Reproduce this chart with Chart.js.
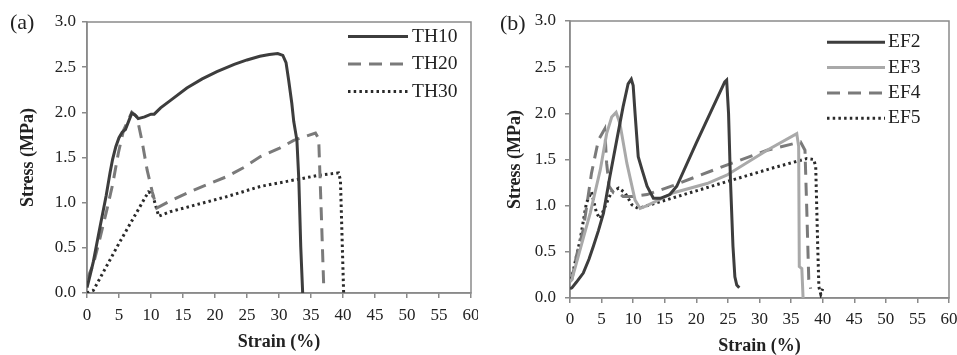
<!DOCTYPE html>
<html>
<head>
<meta charset="utf-8">
<script src="https://cdn.jsdelivr.net/npm/chart.js@4.4.1/dist/chart.umd.min.js"></script>
<style>
  body { margin: 0; background: #fff; }
  canvas { position: absolute; top: 0; }
  .tag { position: absolute; font: 22px "Liberation Serif", serif; color: #222; line-height: 1; }
</style>
</head>
<body>
<canvas id="chartA" width="478" height="355" style="left:0"></canvas>
<canvas id="chartB" width="479" height="355" style="left:478px"></canvas>
<div class="tag" style="left:10px;top:11px">(a)</div>
<div class="tag" style="left:500px;top:12px">(b)</div>
<script>
// strain (%) / stress (MPa)
const th10Strain = [0, 0.5, 1, 2, 3, 3.6, 4, 4.5, 5, 5.5, 6, 6.5, 7, 7.5, 8, 9, 10, 10.5, 11.5, 13, 15.6, 18, 20.3, 23, 25, 27, 28.5, 29.8, 30.6, 31.1, 31.5, 32, 32.3, 32.8, 33.1, 33.4, 33.7];
const th10Stress = [0.06, 0.2, 0.35, 0.72, 1.08, 1.33, 1.48, 1.62, 1.72, 1.78, 1.81, 1.9, 1.99, 1.97, 1.93, 1.95, 1.98, 1.98, 2.05, 2.13, 2.27, 2.37, 2.45, 2.53, 2.58, 2.62, 2.64, 2.65, 2.63, 2.55, 2.36, 2.1, 1.9, 1.69, 1.25, 0.51, 0.0];

const th20Strain = [0, 1, 2, 3.1, 4, 4.9, 5.7, 6.5, 7.0, 7.8, 8.6, 9.4, 10.2, 10.9, 13, 16.7, 21.9, 24.5, 27.1, 30, 32.3, 35.7, 36.2, 36.6, 37.0];
const th20Stress = [0.15, 0.32, 0.6, 0.92, 1.2, 1.55, 1.8, 1.92, 2.0, 1.95, 1.68, 1.36, 1.12, 0.94, 1.02, 1.14, 1.29, 1.39, 1.51, 1.6, 1.69, 1.77, 1.71, 0.9, 0.05];

const th30Strain = [0, 1, 5, 9.6, 10.2, 11.2, 13, 16.7, 22, 27.1, 32.3, 36, 39.3, 39.6, 40.1];
const th30Stress = [0, 0.03, 0.55, 1.12, 1.1, 0.85, 0.9, 0.97, 1.07, 1.18, 1.25, 1.3, 1.33, 1.25, 0];

const ef2Strain = [0, 0.3, 1, 2.1, 3, 3.7, 4.5, 5.3, 6.3, 7.4, 8.4, 9.2, 9.7, 10, 10.3, 10.8, 11.4, 12.2, 13.2, 14.3, 15.8, 16.9, 20, 24.5, 24.8, 25.1, 25.4, 25.8, 26.1, 26.4, 26.8];
const ef2Stress = [0.1, 0.11, 0.17, 0.27, 0.42, 0.56, 0.73, 0.92, 1.31, 1.71, 2.07, 2.32, 2.37, 2.3, 2.0, 1.53, 1.39, 1.21, 1.08, 1.08, 1.12, 1.21, 1.68, 2.34, 2.36, 2.0, 1.28, 0.56, 0.23, 0.14, 0.11];

const ef3Strain = [0, 0.3, 1.5, 3.2, 4.8, 5.8, 6.6, 7.3, 7.9, 9.0, 10.3, 11.1, 12.2, 16.4, 21.7, 24.8, 31.2, 35.9, 36.2, 36.3, 36.7, 36.9];
const ef3Stress = [0.18, 0.2, 0.5, 0.92, 1.39, 1.78, 1.96, 2.01, 1.89, 1.46, 1.06, 0.97, 1.0, 1.14, 1.24, 1.33, 1.6, 1.78, 1.64, 0.34, 0.32, 0.0];

const ef4Strain = [0, 0.3, 1, 2.1, 3.4, 4.5, 5.5, 5.8, 6.2, 6.9, 7.7, 8.4, 10, 12.2, 16.4, 24.8, 31.2, 36.5, 37.2, 37.5, 37.8, 38.1];
const ef4Stress = [0.18, 0.2, 0.45, 0.74, 1.35, 1.71, 1.83, 1.46, 1.21, 1.14, 1.14, 1.1, 1.1, 1.12, 1.22, 1.44, 1.6, 1.69, 1.6, 0.92, 0.2, 0.1];

const ef5Strain = [0, 0.3, 1.6, 2.6, 3.4, 4.2, 4.75, 5.8, 6.6, 7.7, 8.7, 9.8, 10.8, 12.7, 19, 24.8, 32.2, 37.5, 38.6, 38.9, 39.2, 39.4, 39.7, 40.0];
const ef5Stress = [0.2, 0.23, 0.63, 1.03, 1.15, 0.92, 0.86, 1.03, 1.15, 1.19, 1.14, 1.01, 0.97, 1.01, 1.14, 1.26, 1.41, 1.51, 1.5, 1.42, 0.6, 0.12, 0.04, 0.1];

const X_TICK_STEP = 5;
const Y_TICK_STEP = 0.5;

const FRAME = '#8a8a8a';
const TEXT = '#222';
const SERIF = '"Liberation Serif", "Times New Roman", serif';

const DARK = '#3d3d3d';
const MID = '#7a7a7a';
const LIGHT = '#a9a9a9';
const DOTS = '#2a2a2a';
const DASH = [13, 8];
const DOT = [2.5, 3.2];

function pts(xs, ys) {
    return xs.map((x, i) => ({ x: x, y: ys[i] }));
}

function series(label, xs, ys, color, dash) {
    return {
        label: label,
        data: pts(xs, ys),
        borderColor: color,
        borderWidth: 3,
        borderDash: dash,
        pointRadius: 0,
        tension: 0,
        fill: false
    };
}

// grey box round the plot area
const frame = {
    id: 'frame',
    beforeDatasetsDraw(chart) {
        const a = chart.chartArea;
        const ctx = chart.ctx;
        ctx.save();
        ctx.strokeStyle = FRAME;
        ctx.lineWidth = 1.5;
        ctx.strokeRect(a.left, a.top, a.right - a.left, a.bottom - a.top);
        ctx.restore();
    }
};

// legend drawn inside the plot, top right
const insideLegend = {
    id: 'insideLegend',
    afterDraw(chart, args, opts) {
        const ctx = chart.ctx;
        ctx.save();
        chart.data.datasets.forEach((ds, i) => {
            const y = opts.top + i * opts.gap;
            ctx.beginPath();
            ctx.strokeStyle = ds.borderColor;
            ctx.lineWidth = ds.borderWidth;
            ctx.setLineDash(ds.borderDash || []);
            ctx.moveTo(opts.x1, y);
            ctx.lineTo(opts.x2, y);
            ctx.stroke();
            ctx.setLineDash([]);
            ctx.fillStyle = TEXT;
            ctx.font = '19.5px ' + SERIF;
            ctx.textBaseline = 'middle';
            ctx.fillText(ds.label, opts.textX, y);
        });
        ctx.restore();
    }
};

function makeChart(id, datasets, g) {
    const ctx = document.getElementById(id).getContext('2d');
    return new Chart(ctx, {
        type: 'line',
        data: { datasets: datasets },
        plugins: [frame, insideLegend],
        options: {
            responsive: false,
            animation: false,
            layout: { padding: { left: 0, top: g.top, right: g.right, bottom: 0 } },
            scales: {
                x: {
                    type: 'linear',
                    min: 0,
                    max: 60,
                    ticks: {
                        stepSize: X_TICK_STEP,
                        maxRotation: 0,
                        color: TEXT,
                        padding: g.xTickPad,
                        font: { family: SERIF, size: 17, lineHeight: 1 }
                    },
                    grid: { drawOnChartArea: false, drawTicks: true, tickLength: 5, color: FRAME, lineWidth: 1.5 },
                    border: { display: true, color: FRAME, width: 1.5 },
                    title: {
                        display: true,
                        text: 'Strain (%)',
                        color: TEXT,
                        padding: { top: 0, bottom: g.xTitlePad },
                        font: { family: SERIF, size: 18, weight: 'bold', lineHeight: 1 }
                    },
                    afterFit(s) { s.height = g.xHeight; s.paddingLeft = 0; s.paddingRight = 0; }
                },
                y: {
                    min: 0,
                    max: 3,
                    ticks: {
                        stepSize: Y_TICK_STEP,
                        color: TEXT,
                        padding: g.yTickPad,
                        font: { family: SERIF, size: 17, lineHeight: 1 },
                        callback: v => v.toFixed(1)
                    },
                    grid: { drawOnChartArea: false, drawTicks: true, tickLength: 5, color: FRAME, lineWidth: 1.5 },
                    border: { display: true, color: FRAME, width: 1.5 },
                    title: {
                        display: true,
                        text: 'Stress (MPa)',
                        color: TEXT,
                        padding: { top: g.yTitlePad, bottom: 0 },
                        font: { family: SERIF, size: 18, weight: 'bold', lineHeight: 1 }
                    },
                    afterFit(s) { s.width = g.yWidth; s.paddingTop = 0; s.paddingBottom = 0; }
                }
            },
            plugins: {
                legend: { display: false },
                tooltip: { enabled: false },
                insideLegend: g.legend
            }
        }
    });
}

makeChart('chartA', [
    series('TH10', th10Strain, th10Stress, DARK, []),
    series('TH20', th20Strain, th20Stress, MID, DASH),
    series('TH30', th30Strain, th30Stress, DOTS, DOT)
], {
    top: 22, right: 7, xHeight: 62, yWidth: 87,
    xTickPad: 9, yTickPad: 6, xTitlePad: 4, yTitlePad: 19,
    legend: { x1: 348, x2: 408, textX: 412, top: 36.5, gap: 27.5 }
});

makeChart('chartB', [
    series('EF2', ef2Strain, ef2Stress, DARK, []),
    series('EF3', ef3Strain, ef3Stress, LIGHT, []),
    series('EF4', ef4Strain, ef4Stress, MID, DASH),
    series('EF5', ef5Strain, ef5Stress, DOTS, DOT)
], {
    top: 21, right: 8, xHeight: 57, yWidth: 92,
    xTickPad: 8, yTickPad: 9, xTitlePad: 0, yTitlePad: 28,
    legend: { x1: 349, x2: 407, textX: 410, top: 42.3, gap: 25.3 }
});
</script>
</body>
</html>
